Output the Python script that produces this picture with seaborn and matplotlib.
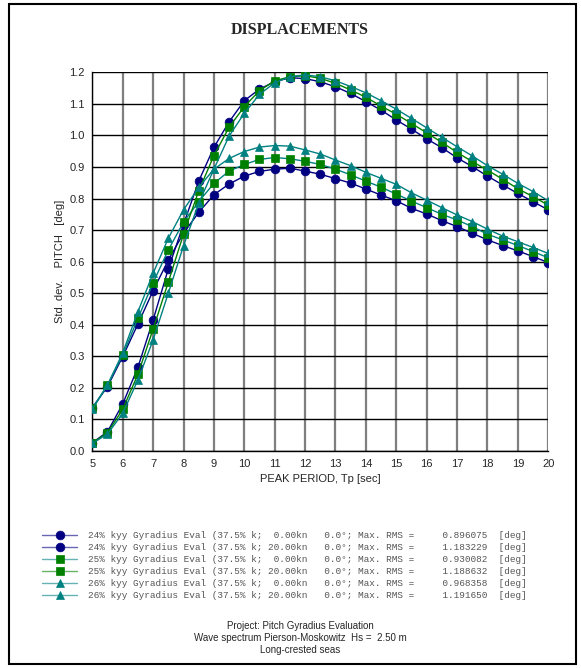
import matplotlib
matplotlib.use("Agg")
import numpy as np
import pandas as pd
import seaborn as sns
import matplotlib.pyplot as plt
from matplotlib.lines import Line2D
from matplotlib.patches import Rectangle

# ---------------- data ----------------
tp = [5.0, 5.5, 6.0, 6.5, 7.0, 7.5, 8.0, 8.5, 9.0, 9.5, 10.0, 10.5, 11.0, 11.5,
      12.0, 12.5, 13.0, 13.5, 14.0, 14.5, 15.0, 15.5, 16.0, 16.5, 17.0, 17.5,
      18.0, 18.5, 19.0, 19.5, 20.0]

k24_0kn = [0.137, 0.204, 0.299, 0.402, 0.508, 0.605, 0.690, 0.756, 0.812, 0.846,
           0.871, 0.886, 0.893, 0.896, 0.887, 0.877, 0.863, 0.849, 0.830, 0.811,
           0.793, 0.769, 0.751, 0.730, 0.711, 0.690, 0.669, 0.651, 0.634, 0.616, 0.597]
k24_20kn = [0.026, 0.061, 0.149, 0.265, 0.415, 0.577, 0.718, 0.855, 0.962, 1.043,
            1.110, 1.147, 1.170, 1.183, 1.180, 1.170, 1.154, 1.133, 1.107, 1.080,
            1.049, 1.020, 0.989, 0.961, 0.929, 0.901, 0.871, 0.843, 0.816, 0.790, 0.764]
k25_0kn = [0.135, 0.209, 0.304, 0.420, 0.533, 0.637, 0.725, 0.790, 0.848, 0.887,
           0.908, 0.924, 0.930, 0.926, 0.918, 0.908, 0.893, 0.875, 0.855, 0.836,
           0.814, 0.792, 0.771, 0.750, 0.732, 0.711, 0.687, 0.669, 0.651, 0.632, 0.612]
k25_20kn = [0.025, 0.058, 0.132, 0.243, 0.386, 0.535, 0.687, 0.824, 0.936, 1.026,
            1.091, 1.142, 1.173, 1.186, 1.189, 1.181, 1.165, 1.144, 1.121, 1.093,
            1.067, 1.038, 1.008, 0.978, 0.946, 0.917, 0.890, 0.861, 0.831, 0.806, 0.779]
k26_0kn = [0.132, 0.209, 0.311, 0.441, 0.563, 0.674, 0.764, 0.835, 0.893, 0.927,
           0.949, 0.963, 0.968, 0.966, 0.954, 0.941, 0.922, 0.904, 0.883, 0.864,
           0.845, 0.818, 0.795, 0.771, 0.748, 0.727, 0.703, 0.681, 0.663, 0.645, 0.626]
k26_20kn = [0.024, 0.054, 0.119, 0.225, 0.352, 0.500, 0.650, 0.785, 0.893, 0.998,
            1.070, 1.130, 1.167, 1.186, 1.192, 1.186, 1.173, 1.155, 1.135, 1.110,
            1.083, 1.054, 1.024, 0.994, 0.964, 0.935, 0.904, 0.877, 0.848, 0.822, 0.793]

labels = [
    "24% kyy Gyradius Eval (37.5% k;  0.00kn   0.0\u00b0; Max. RMS =     0.896075  [deg]",
    "24% kyy Gyradius Eval (37.5% k; 20.00kn   0.0\u00b0; Max. RMS =     1.183229  [deg]",
    "25% kyy Gyradius Eval (37.5% k;  0.00kn   0.0\u00b0; Max. RMS =     0.930082  [deg]",
    "25% kyy Gyradius Eval (37.5% k; 20.00kn   0.0\u00b0; Max. RMS =     1.188632  [deg]",
    "26% kyy Gyradius Eval (37.5% k;  0.00kn   0.0\u00b0; Max. RMS =     0.968358  [deg]",
    "26% kyy Gyradius Eval (37.5% k; 20.00kn   0.0\u00b0; Max. RMS =     1.191650  [deg]",
]
series_values = [k24_0kn, k24_20kn, k25_0kn, k25_20kn, k26_0kn, k26_20kn]

x_ticks = [5, 6, 7, 8, 9, 10, 11, 12, 13, 14, 15, 16, 17, 18, 19, 20]
y_ticks = [0.0, 0.1, 0.2, 0.3, 0.4, 0.5, 0.6, 0.7, 0.8, 0.9, 1.0, 1.1, 1.2]

title = "DISPLACEMENTS"
x_label = "PEAK PERIOD, Tp [sec]"
y_label = "Std. dev.    PITCH   [deg]"
footer = ["Project: Pitch Gyradius Evaluation",
          "Wave spectrum Pierson-Moskowitz  Hs =  2.50 m",
          "Long-crested seas"]

# ---------------- styles ----------------
NAVY = "#000080"
GREEN = "#008000"
TEAL = "#008080"
line_colors = [NAVY, NAVY, TEAL, GREEN, TEAL, TEAL]
marker_colors = [NAVY, NAVY, GREEN, GREEN, TEAL, TEAL]
markers = ["o", "o", "s", "s", "^", "^"]
msizes = [6.3, 6.3, 5.6, 5.6, 6.0, 6.0]

sns.set_style("white")
plt.rcParams["font.family"] = ["Liberation Sans", "DejaVu Sans"]

W, H = 581, 668
fig = plt.figure(figsize=(W / 100, H / 100), dpi=100)

def fx(x):
    return x / W

def fy(y):
    return 1 - y / H

ax_l, ax_r, ax_t, ax_b = 92.3, 548.3, 72.3, 451.0
ax = fig.add_axes([fx(ax_l), fy(ax_b), (ax_r - ax_l) / W, (ax_b - ax_t) / H])

df = pd.DataFrame({"Tp": tp})
for i, vals in enumerate(series_values):
    df[labels[i]] = vals
long = df.melt(id_vars="Tp", var_name="series", value_name="val")

for i, lab in enumerate(labels):
    sub = long[long["series"] == lab]
    sns.lineplot(data=sub, x="Tp", y="val", ax=ax, color=line_colors[i],
                 marker=markers[i], markersize=msizes[i],
                 markerfacecolor=marker_colors[i], markeredgecolor=marker_colors[i],
                 markeredgewidth=0.5, linewidth=1.0, legend=False, zorder=5 + i)

ax.set_xlim(5, 20)
ax.set_ylim(0, 1.2)
ax.set_xticks(x_ticks)
ax.set_yticks(y_ticks)
ax.set_xticklabels([str(t) for t in x_ticks], fontsize=8)
ax.set_yticklabels([f"{t:.1f}" for t in y_ticks], fontsize=8)
ax.set_xticks(np.array(tp), minor=True)
ax.set_yticks([v + 0.05 for v in y_ticks[:-1]], minor=True)
ax.tick_params(axis="both", which="major", direction="inout", length=5, width=0.8, pad=3)
ax.tick_params(axis="both", which="minor", direction="inout", length=4, width=0.8)
for xv in x_ticks:
    ax.axvline(xv, color="#7f7f7f", lw=1.6, zorder=1)
for yv in y_ticks:
    ax.axhline(yv, color="#000000", lw=1.0, zorder=1.5)
for s in ["top", "right"]:
    ax.spines[s].set_visible(False)
for s in ["left", "bottom"]:
    ax.spines[s].set_color("black")
    ax.spines[s].set_linewidth(1.0)
ax.set_xlabel(x_label, fontsize=8, labelpad=4)
ax.set_ylabel(y_label, fontsize=8, labelpad=3)

# title
fig.text(fx(300), fy(30), title, ha="center", va="center",
         fontsize=11.5, fontweight="bold", family="Liberation Serif")

# legend (manual)
row_y = [535, 547, 559, 571, 583, 595]
for i, lab in enumerate(labels):
    yy = fy(row_y[i])
    fig.add_artist(Line2D([fx(42), fx(77)], [yy, yy], color=line_colors[i],
                          lw=1.0, alpha=0.6, transform=fig.transFigure))
    fig.add_artist(Line2D([fx(59.5)], [yy], marker=markers[i], markersize=msizes[i],
                          color=marker_colors[i], markeredgewidth=0.5,
                          transform=fig.transFigure))
    fig.text(fx(88), yy, lab, ha="left", va="center", fontsize=6.75,
             family="Liberation Mono", color="#555555")

# footer
for j, (txt, yv) in enumerate(zip(footer, [626, 638, 650])):
    fig.text(fx(300), fy(yv), txt, ha="center", va="center", fontsize=7)

# outer frame
fig.add_artist(Rectangle((fx(9), fy(664)), fx(576) - fx(9), fy(4) - fy(664),
                         transform=fig.transFigure, fill=False, lw=1.5,
                         edgecolor="black"))

fig.savefig("out.png", dpi=100)
